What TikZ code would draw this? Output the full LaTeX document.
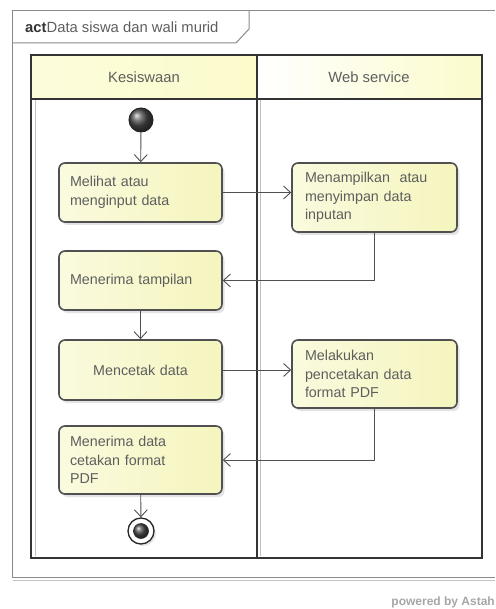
\documentclass[tikz,border=0pt]{standalone}
\usepackage{fontspec}
\setmainfont{Liberation Sans}
\usetikzlibrary{arrows.meta,shadows}
\definecolor{boxyellow}{HTML}{F5F5BE}
\definecolor{hdryellow}{HTML}{FBFBCC}
\definecolor{txtgray}{HTML}{5E5E5E}
\definecolor{linegray}{HTML}{505050}
\definecolor{framegray}{HTML}{8A8A8A}

\begin{document}
\begin{tikzpicture}[x=1pt,y=-1pt,
    actbox/.style={draw=linegray, line width=1.6pt, rounded corners=6pt,
      left color=white!50!boxyellow, right color=boxyellow,
      drop shadow={opacity=0.22,shadow xshift=2.5pt,shadow yshift=-3pt},
      text=txtgray, font=\fontsize{14.3}{18.5}\selectfont,
      align=left, inner ysep=2pt},
    leftbox/.style={actbox, inner xsep=11pt, text width=141pt},
    rightbox/.style={actbox, inner xsep=13pt, text width=139pt},
    startdot/.style={circle, draw=black!85, line width=1pt, ball color=gray!60!black,
      minimum size=24pt, inner sep=0pt},
    flow/.style={draw=linegray, line width=0.9pt, -{Straight Barb[length=7pt,width=13pt]}},
    lane/.style={draw=black!80, line width=1.8pt},
    lanehead/.style={text=txtgray, font=\fontsize{14.8}{16}\selectfont}]
  \useasboundingbox (0,0) rectangle (495,609);

  % frame
  \draw[framegray!50, line width=1pt] (13,580) -- (495,580);
  \draw[framegray, line width=1pt] (495,11) -- (12,11) -- (12,577) -- (495,577);
  \draw[framegray, line width=1pt] (12,43) -- (236,43) -- (249,29) -- (249,11);
  \node[anchor=west, text=black!80, font=\fontsize{14.8}{16}\selectfont, inner sep=0pt]
    (title) at (25,27) {\textbf{act}\textcolor{txtgray}{Data siswa dan wali murid}};

  % swimlanes
  \fill[left color=hdryellow!70!white, right color=hdryellow] (31,55) rectangle (257,99);
  \fill[left color=white, right color=hdryellow] (257,55) rectangle (482,99);
  \draw[black!25, line width=0.6pt] (35,99) -- (35,556);
  \draw[black!25, line width=0.6pt] (260,99) -- (260,556);
  \draw[lane] (31,55) rectangle (482,558);
  \draw[lane] (31,99) -- (482,99);
  \draw[lane] (257,55) -- (257,558);
  \node[lanehead] (kesis) at (144,77) {Kesiswaan};
  \node[lanehead] (websvc) at (369,77) {Web service};

  % actions
  \node[startdot] (start) at (141,120) {};
  \node[leftbox, minimum width=163pt, minimum height=59pt] (melihat) at (140.5,192.5)
    {Melihat atau\\menginput data};
  \node[rightbox, minimum width=165pt, minimum height=69pt] (menampilkan) at (374.5,197.5)
    {Menampilkan~ atau\\menyimpan data\\inputan};
  \node[leftbox, minimum width=163pt, minimum height=59pt] (tampil) at (140.5,280.5)
    {Menerima tampilan};
  \node[actbox, align=center, inner xsep=11pt, text width=141pt,
    minimum width=163pt, minimum height=60pt] (mencetak) at (140.5,370)
    {Mencetak data};
  \node[rightbox, minimum width=165pt, minimum height=68pt] (pencetakan) at (374.5,374)
    {Melakukan\\pencetakan data\\format PDF};
  \node[leftbox, minimum width=163pt, minimum height=68pt] (terimapdf) at (140.5,460)
    {Menerima data\\cetakan format\\PDF};
  \node[circle, draw=black!85, line width=1.3pt, fill=white, minimum size=26pt,
    drop shadow={opacity=0.22,shadow xshift=2pt,shadow yshift=-2pt}] (stop) at (141,531) {};
  \node[startdot, minimum size=15pt, line width=0.6pt] (stopin) at (stop) {};

  % flows
  \draw[flow] (start) -- (melihat);
  \draw[flow] (melihat.east) -- (melihat.east -| menampilkan.west);
  \draw[flow] (menampilkan) |- (tampil.east);
  \draw[flow] (tampil) -- (mencetak);
  \draw[flow] (mencetak.east) -- (mencetak.east -| pencetakan.west);
  \draw[flow] (pencetakan) |- (terimapdf.east);
  \draw[flow] (terimapdf) -- (stop);

  \node[anchor=east, text=black!35, font=\fontsize{12}{14}\selectfont\bfseries, inner sep=0pt]
    (powered) at (495,602) {powered by Astah};
\end{tikzpicture}
\end{document}
